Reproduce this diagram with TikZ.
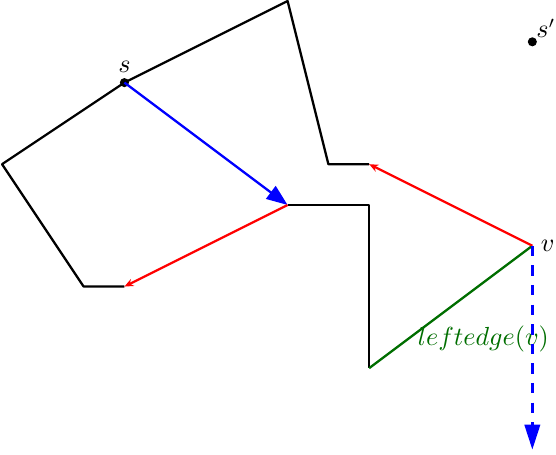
\documentclass[tikz,border=0pt]{standalone}
\usetikzlibrary{arrows.meta,positioning}
\definecolor{edgeGreen}{RGB}{0,110,0}

\begin{document}
\begin{tikzpicture}[x=0.6cm,y=0.6cm,line join=round,every node/.style={font=\fontsize{10.6}{13}\selectfont}]
\useasboundingbox (-0.05,-0.125) rectangle (13.58,11.025);
\tikzset{poly/.style={draw=black,line width=0.95pt},redray/.style={draw=red,line width=0.95pt,-{Stealth[length=3.8pt,width=3.2pt]}},blueray/.style={draw=blue,line width=0.95pt,-{Triangle[length=8.8pt,width=6.6pt]}},downray/.style={draw=blue,line width=1.25pt,dash pattern=on 4.4pt off 3.8pt,-{Triangle[length=10.5pt,width=6.4pt]}},dot/.style={circle,fill=black,inner sep=0pt,minimum size=3.8pt}}
% polygon vertices
\coordinate (p1) at (3,4); \coordinate (p2) at (2,4); \coordinate (p3) at (0,7);
\coordinate (p5) at (7,11); \coordinate (p6) at (8,7); \coordinate (p7) at (9,7);
\coordinate (q1) at (7,6); \coordinate (q2) at (9,6); \coordinate (q3) at (9,2);
\coordinate (v) at (13,5); \coordinate (vlow) at (13,0);
\node[dot,label={[inner sep=2pt]above:$s$}] (s) at (3,9) {};
\node[dot,label={[inner sep=0pt]above right:$s'$}] (s2) at (13,10) {};
\node[anchor=west] (vlab) at (v) {$v$};
% boundary chains
\draw[poly] (p1) -- (p2) -- (p3) -- (s.center) -- (p5) -- (p6) -- (p7);
\draw[poly] (q1) -- (q2) -- (q3);
\draw[line width=0.95pt,edgeGreen] (q3) -- (v);
\node[text=edgeGreen] (lbl) at (11.8,2.72) {$leftedge(v)$};
% rays
\draw[blueray] (s.center) -- (q1);
\draw[redray] (q1) -- (p1);
\draw[redray] (v) -- (p7);
\draw[downray] (v) -- (vlow);
\end{tikzpicture}
\end{document}
